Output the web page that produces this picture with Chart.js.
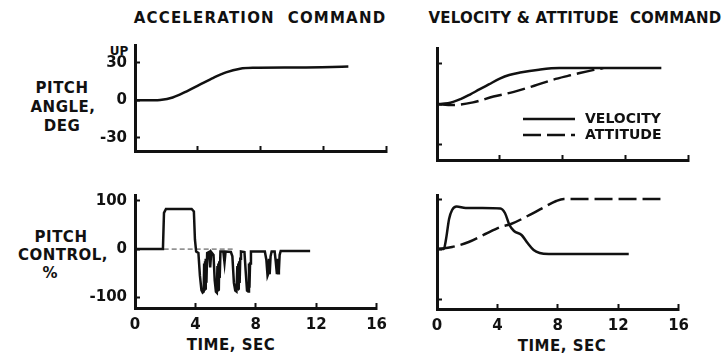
<!DOCTYPE html>
<html>
<head>
<meta charset="utf-8">
<script src="https://cdn.jsdelivr.net/npm/chart.js@4.4.1/dist/chart.umd.min.js"></script>
<style>
  html, body { margin: 0; padding: 0; background: #fff; }
  body { width: 727px; height: 359px; position: relative; overflow: hidden;
         font-family: "DejaVu Sans", sans-serif; font-weight: bold; color: #111; }
  canvas { position: absolute; }
  .txt { position: absolute; white-space: pre; line-height: 1; transform: translate(-50%, -50%); }
</style>
</head>
<body>
<div class="txt" style="left:260px;top:18px;font-size:15px;letter-spacing:1.2px">ACCELERATION  COMMAND</div>
<div class="txt" style="left:575px;top:18px;font-size:15px;letter-spacing:0.2px">VELOCITY &amp; ATTITUDE  COMMAND</div>

<div class="txt" style="left:119px;top:51px;font-size:12px">UP</div>
<div class="txt" style="left:62px;top:88px;font-size:15px;letter-spacing:0.5px">PITCH</div>
<div class="txt" style="left:63px;top:107px;font-size:15px;letter-spacing:0.5px">ANGLE,</div>
<div class="txt" style="left:62px;top:126px;font-size:15px;letter-spacing:0.5px">DEG</div>

<div class="txt" style="left:61px;top:237px;font-size:15px;letter-spacing:0.5px">PITCH</div>
<div class="txt" style="left:63px;top:255px;font-size:15px;letter-spacing:0.5px">CONTROL,</div>
<div class="txt" style="left:50px;top:273px;font-size:15px">%</div>

<div class="txt" style="left:231px;top:345px;font-size:15px;letter-spacing:0.5px">TIME, SEC</div>
<div class="txt" style="left:562px;top:346px;font-size:15px;letter-spacing:0.5px">TIME, SEC</div>

<canvas id="accelAngleChart" width="320" height="150" style="left:80px;top:23px"></canvas>
<canvas id="velAttAngleChart" width="320" height="145" style="left:382px;top:28px"></canvas>
<canvas id="accelCtrlChart" width="320" height="186" style="left:80px;top:173px"></canvas>
<canvas id="velAttCtrlChart" width="320" height="184" style="left:382px;top:175px"></canvas>

<script>
// time axis (sec) shared by all panels
const timeTicks = [0, 4, 8, 12, 16];
const angleTicks = [-30, 0, 30];
const ctrlTicks = [-100, 0, 100];

// acceleration command - pitch angle
const accelAngleTime = [0, 1.2, 1.6, 2.4, 3.3, 4.1, 5.0, 5.8, 6.7, 7.5, 10.5, 13.6];
const accelAngle = [0, 0, 0.2, 2.2, 7.2, 12.3, 18, 22.4, 25.3, 26, 26.3, 27];

// velocity & attitude command - pitch angle
const velAngleTime = [0, 0.7, 1.5, 2.1, 2.7, 3.3, 4.0, 4.6, 5.3, 6.5, 7.8, 14.3];
const velAngle = [0, 0.5, 3.6, 7, 10.8, 14.5, 18.8, 21.5, 23.3, 25.4, 26.6, 26.6];
const attAngleTime = [0, 1.0, 2.3, 3.6, 4.9, 6.2, 7.4, 8.4, 9.1, 10.0, 10.6];
const attAngle = [0, -0.8, 1.2, 5.5, 9, 13.5, 18, 21, 23, 25.3, 26.6];

// acceleration command - pitch control (bang-bang trace, troughs are dense chatter)
const accelCtrlTime = [0, 1.85, 1.92, 2.05, 3.75, 3.9, 3.97, 4.05,
  4.2, 4.3, 4.4, 4.48, 4.55, 4.58, 4.61, 4.64, 4.67, 4.7, 4.73, 4.78,
  4.9, 4.98, 5.05,
  5.2, 5.28, 5.36, 5.42, 5.46, 5.49, 5.52, 5.55, 5.58, 5.61, 5.66,
  5.85, 5.93, 6.0, 6.35,
  6.45, 6.55, 6.64, 6.72, 6.78, 6.81, 6.84, 6.87, 6.9, 6.93, 6.97, 7.02,
  7.25, 7.33, 7.42, 7.5, 7.55, 7.58, 7.62, 7.68,
  8.6, 8.7, 8.78, 8.84, 8.88, 8.92, 8.98, 9.05,
  9.25, 9.32, 9.4, 9.45, 9.49, 9.53, 9.58, 9.65, 11.6];
const accelCtrl = [0, 0, 75, 83, 83, 78, 20, -5,
  -8, -55, -85, -90, -88, -30, -86, -25, -84, -20, -70, -8,
  -6, -38, -6,
  -12, -65, -88, -90, -35, -88, -30, -86, -25, -60, -5,
  -5, -28, -5, -6,
  -15, -70, -86, -88, -35, -86, -30, -84, -25, -70, -20, -5,
  -6, -45, -86, -88, -30, -80, -30, -5,
  -5, -22, -55, -50, -20, -52, -15, -5,
  -5, -25, -52, -20, -50, -45, -12, -4, -4];
const zeroRefTime = [1.9, 6.6];
const zeroRef = [0, 0];

// velocity & attitude command - pitch control
const velCtrlTime = [0, 0.45, 0.6, 0.8, 1.0, 1.3, 1.9, 3.0, 4.2, 4.5, 4.8, 5.1, 5.6, 6.0, 6.4, 6.8, 7.4, 12.7];
const velCtrl = [0, 0, 20, 60, 78, 85, 82, 82, 81, 72, 48, 36, 28, 12, -2, -8, -10, -10];
const attCtrlTime = [0, 1.0, 2.1, 3.2, 4.2, 4.9, 6.0, 7.0, 7.9, 8.4, 14.8];
const attCtrl = [0, 4, 14, 30, 44, 50, 66, 82, 96, 100, 100];

const INK = '#111';
const FONT = { family: '"DejaVu Sans", sans-serif', size: 15, weight: 'bold' };

function pts(xs, ys) {
    return xs.map((x, i) => ({ x: x, y: ys[i] }));
}

function line(label, xs, ys, opts) {
    return Object.assign({
        label: label,
        data: pts(xs, ys),
        borderColor: INK,
        borderWidth: 2.5,
        pointRadius: 0,
        fill: false,
        cubicInterpolationMode: 'monotone'
    }, opts || {});
}

// legend drawn inside the plot, like the original figure
const innerLegend = {
    id: 'innerLegend',
    afterDatasetsDraw(chart) {
        if (!chart.options.plugins.innerLegend) return;
        const { ctx, chartArea } = chart;
        const x0 = chartArea.left + 86, x1 = x0 + 52;
        chart.data.datasets.forEach((ds, i) => {
            const y = chartArea.top + 71 + i * 16;
            ctx.save();
            ctx.strokeStyle = ds.borderColor;
            ctx.lineWidth = ds.borderWidth;
            ctx.setLineDash(ds.borderDash || []);
            ctx.beginPath();
            ctx.moveTo(x0, y);
            ctx.lineTo(x1, y);
            ctx.stroke();
            ctx.setLineDash([]);
            ctx.fillStyle = INK;
            ctx.font = 'bold 14px "DejaVu Sans"';
            ctx.textBaseline = 'middle';
            ctx.fillText(ds.label, x1 + 10, y);
            ctx.restore();
        });
    }
};

function makeChart(id, datasets, cfg) {
    const axisCommon = {
        border: { color: INK, width: 3 },
        grid: { drawOnChartArea: false, drawTicks: true, tickLength: -5, tickWidth: 2, color: INK, tickColor: INK }
    };
    return new Chart(document.getElementById(id), {
        type: 'line',
        data: { datasets: datasets },
        plugins: [innerLegend],
        options: {
            responsive: false,
            animation: false,
            events: [],
            layout: { padding: { top: 20, right: 14, left: 0, bottom: 0 } },
            plugins: {
                legend: { display: false },
                tooltip: { enabled: false },
                innerLegend: cfg.legend || false
            },
            scales: {
                x: Object.assign({}, axisCommon, {
                    type: 'linear',
                    min: 0, max: 16,
                    afterBuildTicks: s => { s.ticks = timeTicks.map(v => ({ value: v })); },
                    afterFit: s => { s.height = cfg.xHeight; },
                    ticks: { display: cfg.xLabels, color: INK, font: FONT, padding: 13, maxRotation: 0 }
                }),
                y: Object.assign({}, axisCommon, {
                    type: 'linear',
                    min: cfg.yMin, max: cfg.yMax,
                    afterBuildTicks: s => { s.ticks = cfg.yTicks.map(v => ({ value: v })); },
                    afterFit: s => { s.width = 55; },
                    ticks: { display: cfg.yLabels, color: INK, font: FONT, padding: 13 }
                })
            }
        }
    });
}

makeChart('accelAngleChart', [
    line('PITCH ANGLE', accelAngleTime, accelAngle)
], { yMin: -40.7, yMax: 44.3, yTicks: angleTicks, xLabels: false, yLabels: true, xHeight: 11 });

makeChart('velAttAngleChart', [
    line('VELOCITY', velAngleTime, velAngle),
    line('ATTITUDE', attAngleTime, attAngle, { borderDash: [18, 6] })
], { yMin: -41.5, yMax: 41.5, yTicks: angleTicks, xLabels: false, yLabels: false, xHeight: 13, legend: true });

makeChart('accelCtrlChart', [
    line('PITCH CONTROL', accelCtrlTime, accelCtrl, { cubicInterpolationMode: 'default', tension: 0, borderWidth: 2.5 }),
    line('ZERO', zeroRefTime, zeroRef, { borderWidth: 1, borderDash: [5, 3], borderColor: '#444' })
], { yMin: -122, yMax: 112, yTicks: ctrlTicks, xLabels: true, yLabels: true, xHeight: 51 });

makeChart('velAttCtrlChart', [
    line('VELOCITY', velCtrlTime, velCtrl),
    line('ATTITUDE', attCtrlTime, attCtrl, { borderDash: [18, 6] })
], { yMin: -120, yMax: 108, yTicks: ctrlTicks, xLabels: true, yLabels: false, xHeight: 50 });
</script>
</body>
</html>
